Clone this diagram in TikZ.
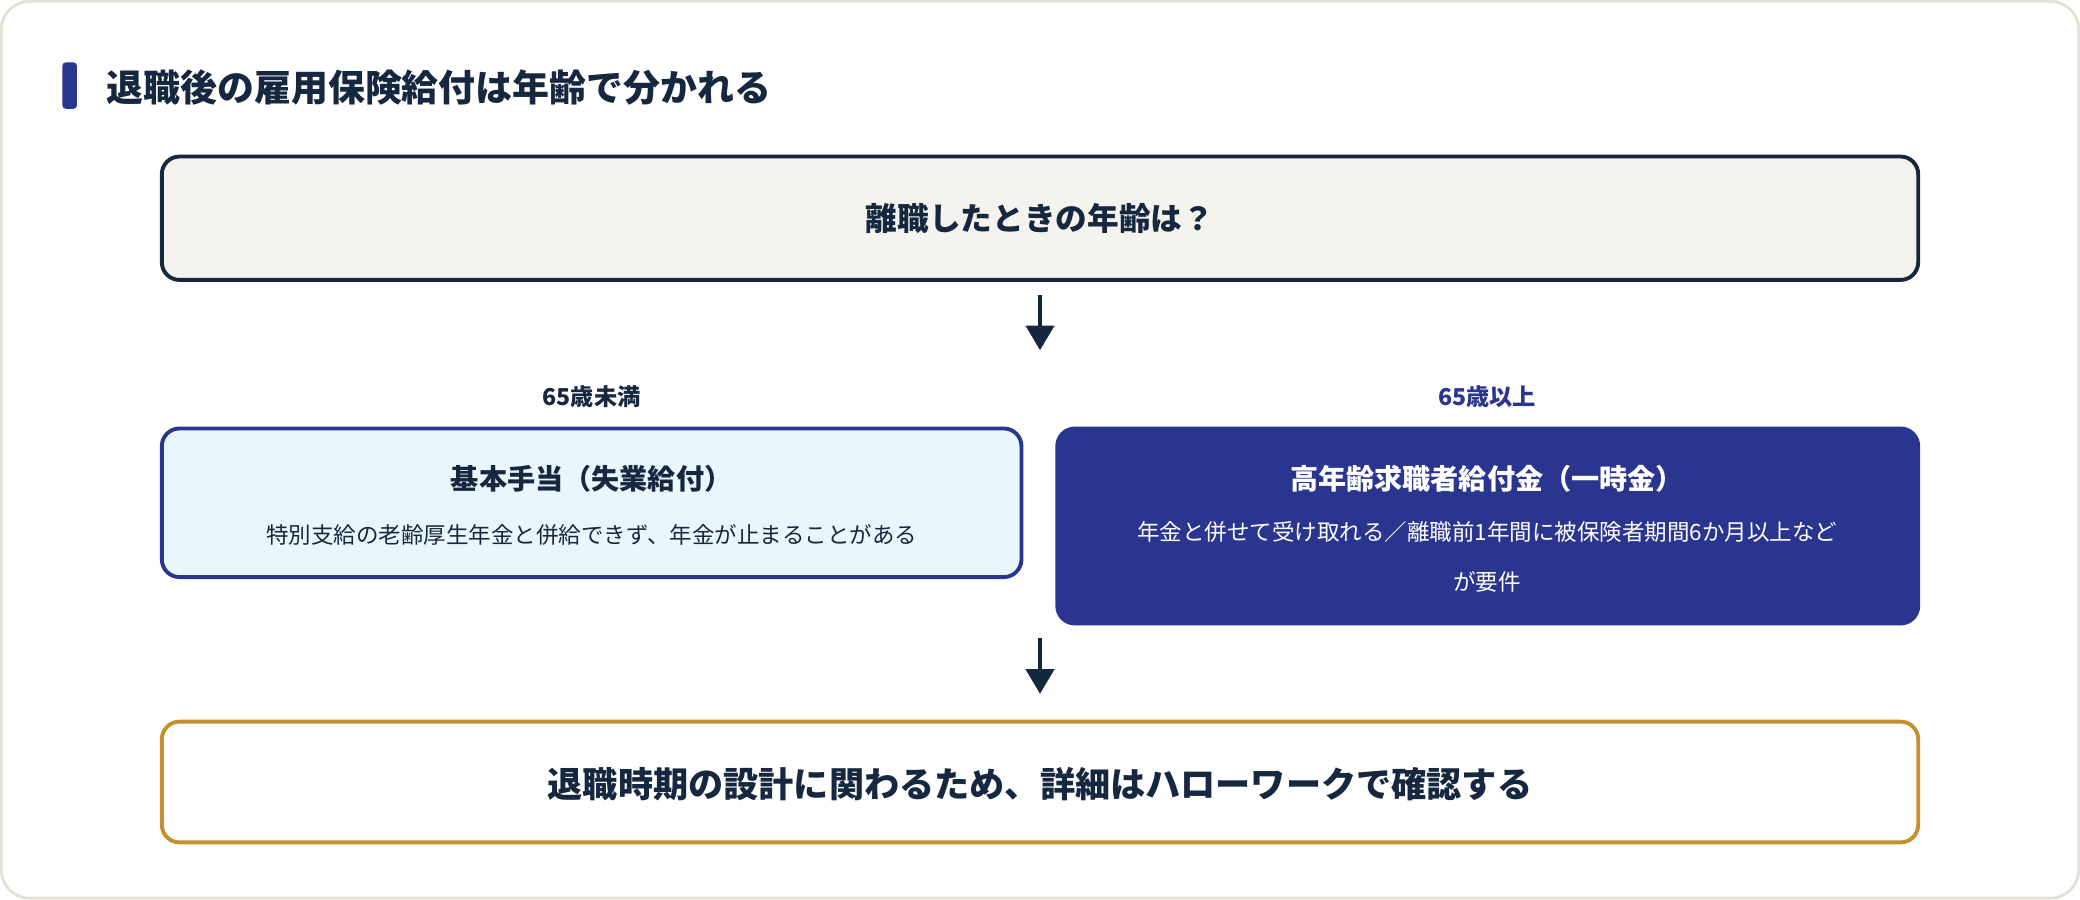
\documentclass[tikz,border=0pt]{standalone}
\usepackage{fontspec}
\setmainfont{Noto Sans CJK JP}
\usetikzlibrary{arrows.meta,positioning}
\definecolor{navy}{HTML}{16283F}
\definecolor{indigo}{HTML}{2A3590}
\definecolor{paper}{HTML}{F4F3EE}
\definecolor{skyfill}{HTML}{E9F7FC}
\definecolor{gold}{HTML}{C4902E}
\definecolor{frame}{HTML}{E4E2D6}
\tikzset{
  box/.style={draw, line width=1.1pt, rounded corners=5pt, inner sep=0pt},
  flow/.style={draw=navy, line width=1.1pt, -{Triangle[length=7pt,width=8pt]}},
  tag/.style={font=\bfseries\fontsize{6.6}{8}\selectfont}
}
\begin{document}
\begin{tikzpicture}[x=0.013265cm, y=-0.013265cm]
        \useasboundingbox (0,0) rectangle (1568,678);
        \draw[frame, fill=white, rounded corners=8pt, line width=0.8pt] (1,1) rectangle (1567,677);
        % heading
        \fill[indigo, rounded corners=1pt] (47,47) rectangle (58,82);
        \node[anchor=west, text=navy, font=\bfseries\fontsize{10.5}{12}\selectfont] (head) at (71,66)
          {退職後の雇用保険給付は年齢で分かれる};
        % question
        \draw[box, draw=navy, fill=paper] (122,118) rectangle (1446,211);
        \node[text=navy, font=\bfseries\fontsize{9}{11}\selectfont] (ask) at (784,165) {離職したときの年齢は？};
        \coordinate (a1) at (784,222);
        \coordinate (b1) at (784,264);
        \draw[flow] (a1) -- (b1);
        % branches
        \node[tag, text=navy] (under) at (446,299) {65歳未満};
        \node[tag, text=indigo] (over) at (1121,299) {65歳以上};
        \draw[box, draw=indigo, fill=skyfill] (122,323) rectangle (770,435);
        \node[text=navy, font=\bfseries\fontsize{8}{10}\selectfont] (basic) at (446,361) {基本手当（失業給付）};
        \node[text=navy, font=\fontsize{6.4}{8}\selectfont] (basicnote) at (446,403)
          {特別支給の老齢厚生年金と併給できず、年金が止まることがある};
        \draw[box, draw=indigo, fill=indigo] (797,323) rectangle (1446,470);
        \node[text=white, font=\bfseries\fontsize{8}{10}\selectfont] (senior) at (1121,361) {高年齢求職者給付金（一時金）};
        \node[text=white, align=center, font=\fontsize{6.4}{14.2}\selectfont] (seniornote) at (1121,420)
          {年金と併せて受け取れる／離職前1年間に被保険者期間6か月以上など\\が要件};
        \coordinate (a2) at (784,481);
        \coordinate (b2) at (784,523);
        \draw[flow] (a2) -- (b2);
        % conclusion
        \draw[box, draw=gold, fill=white] (122,544) rectangle (1446,635);
        \node[text=navy, font=\bfseries\fontsize{10}{12}\selectfont] (check) at (784,591)
          {退職時期の設計に関わるため、詳細はハローワークで確認する};
\end{tikzpicture}
\end{document}
